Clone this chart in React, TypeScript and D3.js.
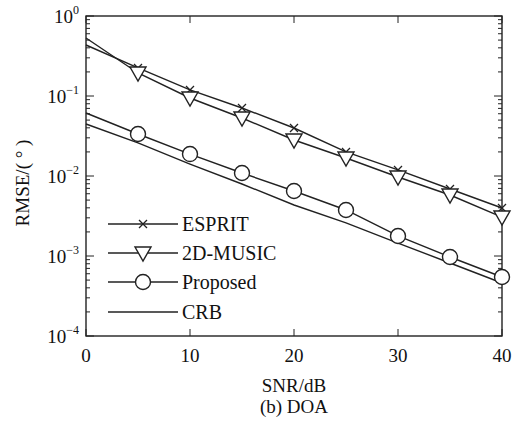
import React, { useEffect, useRef } from 'react'
import * as d3 from 'd3'

const snr = [0, 5, 10, 15, 20, 25, 30, 35, 40]
const esprit = [0.434, 0.224, 0.119, 0.0708, 0.0398, 0.02, 0.0119, 0.00688, 0.00398]
const music = [0.531, 0.194, 0.0944, 0.0531, 0.0282, 0.0168, 0.00972, 0.00579, 0.00307]
const proposed = [0.0613, 0.0335, 0.0188, 0.0109, 0.00649, 0.00376, 0.00178, 0.000972, 0.000546]
const crb = [0.0447, 0.0259, 0.0141, 0.00794, 0.00434, 0.00259, 0.00145, 0.000818, 0.00046]
const xTicks = [0, 10, 20, 30, 40]
const yExps = [0, -1, -2, -3, -4]
const seriesNames = ['ESPRIT', '2D-MUSIC', 'Proposed', 'CRB']
const markers = ['x', 'tri', 'circle', 'none']

const W = 522, H = 421
const L = 86, R = 502, T = 16, B = 336
const FONT = '"Liberation Serif", "Times New Roman", serif'
const INK = '#222'
const TXT = '#111'

function drawMarker(g: any, kind: string, cx: number, cy: number) {
  if (kind === 'x') {
    g.append('path').attr('d', `M${cx - 4},${cy - 4}L${cx + 4},${cy + 4}M${cx - 4},${cy + 4}L${cx + 4},${cy - 4}`)
      .attr('stroke', INK).attr('stroke-width', 1.3).attr('fill', 'none')
  } else if (kind === 'tri') {
    g.append('path').attr('d', `M${cx - 8},${cy - 6}L${cx + 8},${cy - 6}L${cx},${cy + 8}Z`)
      .attr('stroke', INK).attr('stroke-width', 1.4).attr('fill', 'white')
  } else if (kind === 'circle') {
    g.append('circle').attr('cx', cx).attr('cy', cy).attr('r', 7.5)
      .attr('stroke', INK).attr('stroke-width', 1.4).attr('fill', 'white')
  }
}

export default function App() {
  const ref = useRef<SVGSVGElement>(null)

  useEffect(() => {
    const svg = d3.select(ref.current)
    svg.selectAll('*').remove()

    const x = d3.scaleLinear().domain([0, 40]).range([L, R])
    const y = d3.scaleLog().domain([1e-4, 1]).range([B, T])

    const ax = svg.append('g')
    // minor ticks on log axis
    for (let e = -4; e < 0; e++) {
      for (let m = 2; m <= 9; m++) {
        const yy = y(m * Math.pow(10, e))
        ax.append('line').attr('x1', L).attr('x2', L + 4).attr('y1', yy).attr('y2', yy).attr('stroke', INK)
        ax.append('line').attr('x1', R).attr('x2', R - 4).attr('y1', yy).attr('y2', yy).attr('stroke', INK)
      }
    }
    yExps.forEach(e => {
      const yy = y(Math.pow(10, e))
      ax.append('line').attr('x1', L).attr('x2', L + 8).attr('y1', yy).attr('y2', yy).attr('stroke', INK)
      ax.append('line').attr('x1', R).attr('x2', R - 8).attr('y1', yy).attr('y2', yy).attr('stroke', INK)
      const t = ax.append('text').attr('x', 79).attr('y', yy + 7).attr('text-anchor', 'end')
        .attr('font-family', FONT).attr('font-size', 19).attr('fill', TXT)
      t.append('tspan').text('10')
      t.append('tspan').attr('font-size', 12).attr('dy', -9).text(String(e).replace('-', '\u2212'))
    })
    xTicks.forEach(v => {
      const xx = x(v)
      ax.append('line').attr('x1', xx).attr('x2', xx).attr('y1', B).attr('y2', B - 7).attr('stroke', INK)
      ax.append('line').attr('x1', xx).attr('x2', xx).attr('y1', T).attr('y2', T + 7).attr('stroke', INK)
      ax.append('text').attr('x', xx).attr('y', 362).attr('text-anchor', 'middle')
        .attr('font-family', FONT).attr('font-size', 19).attr('fill', TXT).text(v)
    })
    ax.append('rect').attr('x', L).attr('y', T).attr('width', R - L).attr('height', B - T)
      .attr('fill', 'none').attr('stroke', INK).attr('stroke-width', 1.4)

    const data = [esprit, music, proposed, crb]
    const line = d3.line<number>().x((_, i) => x(snr[i])).y(d => y(d))
    const g = svg.append('g')
    data.forEach(vals => {
      g.append('path').attr('d', line(vals)).attr('fill', 'none').attr('stroke', INK).attr('stroke-width', 1.4)
    })
    data.forEach((vals, k) => {
      vals.forEach((v, i) => {
        if (i > 0) drawMarker(g, markers[k], x(snr[i]), y(v))
      })
    })

    // legend
    const lg = svg.append('g')
    const rows = [224, 253, 282, 312]
    seriesNames.forEach((name, k) => {
      const ry = rows[k]
      lg.append('line').attr('x1', 108).attr('x2', 178).attr('y1', ry).attr('y2', ry).attr('stroke', INK).attr('stroke-width', 1.4)
      drawMarker(lg, markers[k], 143, ry)
      lg.append('text').attr('x', 182).attr('y', ry + 7).attr('font-family', FONT).attr('font-size', 20)
        .attr('fill', TXT).text(name)
    })

    svg.append('text').attr('x', 294).attr('y', 392).attr('text-anchor', 'middle')
      .attr('font-family', FONT).attr('font-size', 19).attr('fill', TXT).text('SNR/dB')
    svg.append('text').attr('x', 294).attr('y', 413).attr('text-anchor', 'middle')
      .attr('font-family', FONT).attr('font-size', 19).attr('fill', TXT).text('(b) DOA')
    svg.append('text').attr('transform', 'translate(29,183) rotate(-90)').attr('text-anchor', 'middle')
      .attr('font-family', FONT).attr('font-size', 19).attr('fill', TXT).text('RMSE/( ° )')
  }, [])

  return (
    <div style={{ position: 'absolute', left: 0, top: 0 }}>
      <svg ref={ref} width={W} height={H} style={{ display: 'block', background: 'white' }} />
    </div>
  )
}
